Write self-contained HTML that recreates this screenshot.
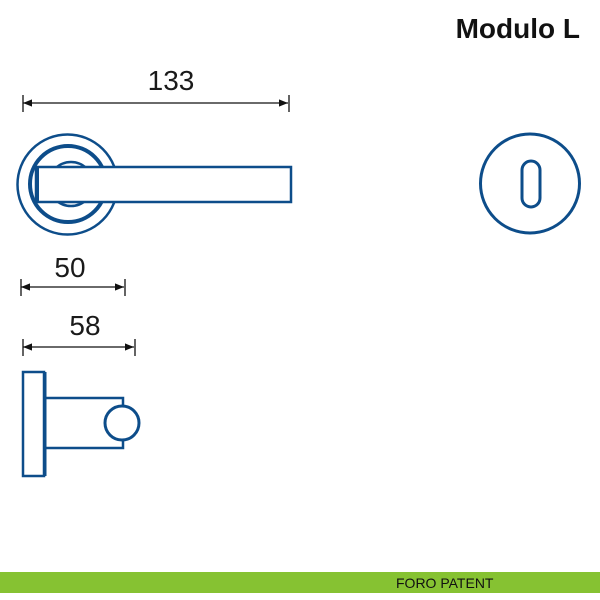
<!DOCTYPE html>
<html><head><meta charset="utf-8"><style>
html,body{margin:0;padding:0;background:#fff;width:600px;height:600px;overflow:hidden}
</style></head><body>
<svg width="600" height="600" viewBox="0 0 600 600" xmlns="http://www.w3.org/2000/svg">
<defs>
<marker id="a" viewBox="0 0 10 10" refX="10" refY="5" markerWidth="7" markerHeight="7" orient="auto-start-reverse"><path d="M0,1 L10,5 L0,9 z" fill="#111"/></marker>
</defs>
<text x="580" y="38" text-anchor="end" font-family="Liberation Sans, sans-serif" font-size="28" font-weight="bold" fill="#111">Modulo L</text>
<g font-family="Liberation Sans, sans-serif" font-size="28" fill="#1a1a1a" text-anchor="middle">
<text x="171" y="90">133</text>
<text x="70" y="277">50</text>
<text x="85" y="335">58</text>
</g>
<g stroke="#111" stroke-width="1.3" fill="none">
<line x1="23" y1="103" x2="288" y2="103" marker-start="url(#a)" marker-end="url(#a)"/>
<line x1="23" y1="95" x2="23" y2="112"/><line x1="289" y1="95" x2="289" y2="112"/>
<line x1="21" y1="287" x2="124" y2="287" marker-start="url(#a)" marker-end="url(#a)"/>
<line x1="21" y1="279" x2="21" y2="296"/><line x1="125" y1="279" x2="125" y2="296"/>
<line x1="23" y1="347" x2="134" y2="347" marker-start="url(#a)" marker-end="url(#a)"/>
<line x1="23" y1="339" x2="23" y2="356"/><line x1="135" y1="339" x2="135" y2="356"/>
</g>
<g stroke="#0d4d8a" fill="none">
<circle cx="67.5" cy="184.5" r="50" stroke-width="2.5"/>
<circle cx="68" cy="184" r="38" stroke-width="4"/>
<circle cx="71" cy="184" r="22" stroke-width="2.5"/>
<rect x="36" y="167" width="255" height="35" fill="#fff" stroke-width="2.5"/>
<line x1="37" y1="168" x2="37" y2="201" stroke-width="4"/>
<circle cx="530" cy="183.5" r="49.5" stroke-width="3"/>
<rect x="522" y="161" width="18" height="46" rx="9" stroke-width="3"/>
<rect x="23" y="372" width="21" height="104" stroke-width="2.5"/>
<line x1="45" y1="372" x2="45" y2="476" stroke-width="3"/>
<rect x="45" y="398" width="78" height="50" stroke-width="2.5"/>
<circle cx="122" cy="423" r="17" fill="#fff" stroke-width="3"/>
</g>
<rect x="0" y="572" width="600" height="21" fill="#86c232"/>
<text x="396" y="588" font-family="Liberation Sans, sans-serif" font-size="14" fill="#111">FORO PATENT</text>
</svg>
</body></html>
